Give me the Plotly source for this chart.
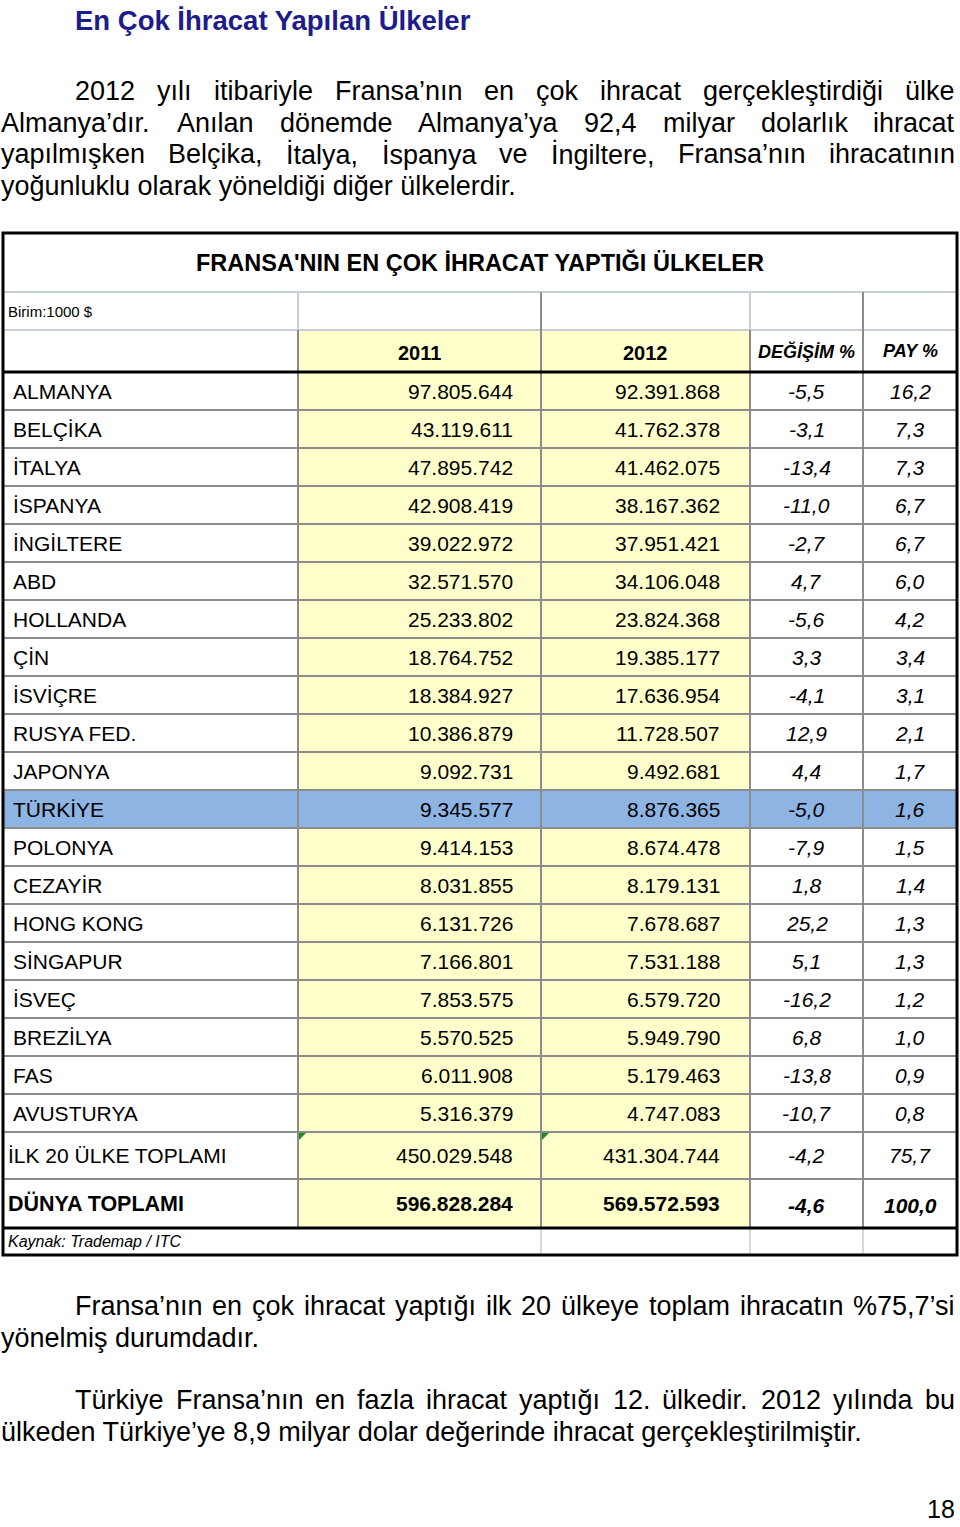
import plotly.graph_objects as go

# ---------------- data ----------------
countries = ["ALMANYA", "BELÇİKA", "İTALYA", "İSPANYA", "İNGİLTERE", "ABD", "HOLLANDA",
             "ÇİN", "İSVİÇRE", "RUSYA FED.", "JAPONYA", "TÜRKİYE", "POLONYA", "CEZAYİR",
             "HONG KONG", "SİNGAPUR", "İSVEÇ", "BREZİLYA", "FAS", "AVUSTURYA"]
exports_2011 = [97805644, 43119611, 47895742, 42908419, 39022972, 32571570, 25233802,
                18764752, 18384927, 10386879, 9092731, 9345577, 9414153, 8031855,
                6131726, 7166801, 7853575, 5570525, 6011908, 5316379]
exports_2012 = [92391868, 41762378, 41462075, 38167362, 37951421, 34106048, 23824368,
                19385177, 17636954, 11728507, 9492681, 8876365, 8674478, 8179131,
                7678687, 7531188, 6579720, 5949790, 5179463, 4747083]
change_pct = [-5.5, -3.1, -13.4, -11.0, -2.7, 4.7, -5.6, 3.3, -4.1, 12.9,
              4.4, -5.0, -7.9, 1.8, 25.2, 5.1, -16.2, 6.8, -13.8, -10.7]
share_pct = [16.2, 7.3, 7.3, 6.7, 6.7, 6.0, 4.2, 3.4, 3.1, 2.1,
             1.7, 1.6, 1.5, 1.4, 1.3, 1.3, 1.2, 1.0, 0.9, 0.8]
top20_label = "İLK 20 ÜLKE TOPLAMI"
top20_values = [450029548, 431304744, -4.2, 75.7]
world_label = "DÜNYA TOPLAMI"
world_values = [596828284, 569572593, -4.6, 100.0]
col_headers = ["2011", "2012", "DEĞİŞİM %", "PAY %"]
highlight_country = "TÜRKİYE"
table_title = "FRANSA'NIN EN ÇOK İHRACAT YAPTIĞI ÜLKELER"
unit_label = "Birim:1000 $"
source_label = "Kaynak: Trademap / ITC"
page_heading = "En Çok İhracat Yapılan Ülkeler"
page_number = "18"

paragraph1 = ["2012 yılı itibariyle Fransa’nın en çok ihracat gerçekleştirdiği ülke",
              "Almanya’dır. Anılan dönemde Almanya’ya 92,4 milyar dolarlık ihracat",
              "yapılmışken Belçika, İtalya, İspanya ve İngiltere, Fransa’nın ihracatının",
              "yoğunluklu olarak yöneldiği diğer ülkelerdir."]
paragraph2 = ["Fransa’nın en çok ihracat yaptığı ilk 20 ülkeye toplam ihracatın %75,7’si",
              "yönelmiş durumdadır."]
paragraph3 = ["Türkiye Fransa’nın en fazla ihracat yaptığı 12. ülkedir. 2012 yılında bu",
              "ülkeden Türkiye’ye 8,9 milyar dolar değerinde ihracat gerçekleştirilmiştir."]

# ---------------- layout constants ----------------
FONT = "Liberation Sans, Arial, Helvetica, sans-serif"
PAGE_W, PAGE_H = 960, 1527
COL_X = [3, 298, 541, 750, 863, 957]          # column edges
TABLE_TOP = 233
ROW_H = [59, 38, 42] + [38] * len(countries) + [47, 49, 27]
YELLOW = "#FFFFCC"
BLUE = "#8DB4E2"
GRID = "#8c8c8c"
LIGHT = "#c8cfd8"
NAVY = "#1c1c8c"


def fmt_int(v):
    return f"{v:,}".replace(",", ".")


def fmt_pct(v):
    return f"{v:.1f}".replace(".", ",")


# Arial / Liberation Sans advance widths (1/1000 em) for justification
W = {' ': 278, ',': 278, '.': 278, ':': 278, '%': 889, '’': 222, "'": 191, '-': 333, '/': 278, '$': 556}
for d in "0123456789":
    W[d] = 556
W.update(dict(zip("ABCDEFGHIJKLMNOPQRSTUVWXYZ",
                  [667, 667, 722, 722, 667, 611, 778, 722, 278, 500, 667, 556, 833, 722, 778, 667,
                   778, 722, 667, 611, 722, 667, 944, 667, 667, 611])))
W.update(dict(zip("abcdefghijklmnopqrstuvwxyz",
                  [556, 556, 500, 556, 556, 278, 556, 556, 222, 222, 500, 222, 833, 556, 556, 556,
                   556, 333, 500, 278, 556, 500, 722, 500, 500, 500])))
W.update({'ç': 500, 'ş': 500, 'ğ': 556, 'ı': 278, 'İ': 278, 'ö': 556, 'ü': 556,
          'Ç': 722, 'Ş': 667, 'Ğ': 778, 'Ö': 778, 'Ü': 722})


def text_w(s, size):
    return sum(W.get(c, 556) for c in s) * size / 1000.0


# row edges from heights
row_edges = [TABLE_TOP]
for h in ROW_H:
    row_edges.append(row_edges[-1] + h)


def row_mid(i):
    return (row_edges[i] + row_edges[i + 1]) / 2


fig = go.Figure()
fig.add_trace(go.Scatter(x=[0, PAGE_W], y=[0, PAGE_H], mode="markers",
                         marker=dict(opacity=0), hoverinfo="skip", showlegend=False))

shapes = []
anns = []


def rect(x0, y0, x1, y1, fill, layer="below"):
    shapes.append(dict(type="rect", xref="x", yref="y", x0=x0, y0=y0, x1=x1, y1=y1,
                       fillcolor=fill, line=dict(width=0), layer=layer))


def line(x0, y0, x1, y1, color, width):
    shapes.append(dict(type="line", xref="x", yref="y", x0=x0, y0=y0, x1=x1, y1=y1,
                       line=dict(color=color, width=width), layer="above"))


def txt(x, y, s, size, anchor="left", color="black", bold=False, italic=False):
    if italic:
        s = f"<i>{s}</i>"
    if bold:
        s = f"<b>{s}</b>"
    anns.append(dict(x=x, y=y, xref="x", yref="y", text=s, showarrow=False,
                     xanchor=anchor, yanchor="middle", borderpad=0, borderwidth=0,
                     font=dict(family=FONT, size=size, color=color)))


# ---------------- table fills ----------------
n = len(countries)
first_data = 3
hdr_top = row_edges[2]
world_bot = row_edges[first_data + n + 2]
rect(COL_X[1], hdr_top, COL_X[3], world_bot, YELLOW)
hi = countries.index(highlight_country)
rect(COL_X[0], row_edges[first_data + hi], COL_X[5], row_edges[first_data + hi + 1], BLUE)

# ---------------- grid lines ----------------
line(COL_X[0], row_edges[1], COL_X[5], row_edges[1], LIGHT, 2)
line(COL_X[0], row_edges[2], COL_X[5], row_edges[2], LIGHT, 2)
for k in range(first_data + 1, first_data + n + 2):
    line(COL_X[0], row_edges[k], COL_X[5], row_edges[k], GRID, 2)
# verticals in unit/header rows
line(COL_X[1], row_edges[1], COL_X[1], row_edges[2], LIGHT, 2)
line(COL_X[1], row_edges[2], COL_X[1], row_edges[3], GRID, 2)
line(COL_X[2], row_edges[1], COL_X[2], row_edges[3], GRID, 2)
line(COL_X[3], row_edges[1], COL_X[3], row_edges[2], LIGHT, 2)
line(COL_X[3], row_edges[2], COL_X[3], row_edges[3], GRID, 2)
line(COL_X[4], row_edges[1], COL_X[4], row_edges[3], GRID, 2)
# verticals in body
for c in range(1, 5):
    line(COL_X[c], row_edges[3], COL_X[c], world_bot, GRID, 2)
# verticals in source row
for c in range(2, 5):
    line(COL_X[c], world_bot, COL_X[c], row_edges[-1], LIGHT, 1.5)
# thick separators
line(COL_X[0], row_edges[3], COL_X[5], row_edges[3], "black", 3)
line(COL_X[0], world_bot, COL_X[5], world_bot, "black", 3)
# outer border
shapes.append(dict(type="rect", xref="x", yref="y", x0=COL_X[0], y0=row_edges[0],
                   x1=COL_X[5], y1=row_edges[-1], line=dict(color="black", width=3),
                   fillcolor="rgba(0,0,0,0)", layer="above"))
# small green error indicators on the top-20 total cells
t20_top = row_edges[first_data + n]
for c in (1, 2):
    x0 = COL_X[c] + 1
    shapes.append(dict(type="path", xref="x", yref="y",
                       path=f"M {x0},{t20_top + 1} L {x0 + 7},{t20_top + 1} L {x0},{t20_top + 8} Z",
                       fillcolor="#1f8a1f", line=dict(width=0), layer="above"))

# ---------------- table text ----------------
X_NAME = 13
X_2011 = 513
X_2012 = 720
X_CHG = (COL_X[3] + COL_X[4]) / 2
X_PAY = (COL_X[4] + COL_X[5]) / 2
DS = 21

txt((COL_X[0] + COL_X[5]) / 2, row_mid(0), table_title, 23.5, "center", bold=True)
txt(8, row_mid(1), unit_label, 15)
hy = row_mid(2) + 2
txt((COL_X[1] + COL_X[2]) / 2, hy, col_headers[0], 20, "center", bold=True)
txt((COL_X[2] + COL_X[3]) / 2, hy, col_headers[1], 20, "center", bold=True)
txt(X_CHG, hy - 2, col_headers[2], 18, "center", bold=True, italic=True)
txt(X_PAY, hy - 2, col_headers[3], 18, "center", bold=True, italic=True)

for i, name in enumerate(countries):
    y = row_mid(first_data + i)
    txt(X_NAME, y, name, DS)
    txt(X_2011, y, fmt_int(exports_2011[i]), DS, "right")
    txt(X_2012, y, fmt_int(exports_2012[i]), DS, "right")
    txt(X_CHG, y, fmt_pct(change_pct[i]), DS, "center", italic=True)
    txt(X_PAY, y, fmt_pct(share_pct[i]), DS, "center", italic=True)

y = row_mid(first_data + n)
txt(8, y, top20_label, DS)
txt(X_2011, y, fmt_int(top20_values[0]), DS, "right")
txt(X_2012, y, fmt_int(top20_values[1]), DS, "right")
txt(X_CHG, y, fmt_pct(top20_values[2]), DS, "center", italic=True)
txt(X_PAY, y, fmt_pct(top20_values[3]), DS, "center", italic=True)

y = row_mid(first_data + n + 1)
txt(8, y, world_label, 21.5, bold=True)
txt(X_2011, y, fmt_int(world_values[0]), DS, "right", bold=True)
txt(X_2012, y, fmt_int(world_values[1]), DS, "right", bold=True)
txt(X_CHG, y + 2, fmt_pct(world_values[2]), DS, "center", bold=True, italic=True)
txt(X_PAY, y + 2, fmt_pct(world_values[3]), DS, "center", bold=True, italic=True)

txt(8, row_mid(first_data + n + 2), source_label, 16, italic=True)

# ---------------- page text ----------------
PS = 27
txt(75, 20, page_heading, 27.5, color=NAVY, bold=True)


def justified(y, x0, x1, s, size):
    words = s.split(" ")
    widths = [text_w(w, size) for w in words]
    gap = (x1 - x0 - sum(widths)) / (len(words) - 1)
    x = x0
    for k, w in enumerate(words):
        if k == len(words) - 1:
            txt(x1, y, w, size, "right")
        else:
            txt(x, y, w, size, "left")
        x += widths[k] + gap


def paragraph(lines, ys, indent=75, right=955):
    for k, (s, y) in enumerate(zip(lines, ys)):
        x0 = indent if k == 0 else 1
        if k < len(lines) - 1:
            justified(y, x0, right, s, PS)
        else:
            txt(x0, y, s, PS)


paragraph(paragraph1, [91, 123, 154, 186])
paragraph(paragraph2, [1306, 1338])
paragraph(paragraph3, [1400, 1432])
txt(955, 1509, page_number, 25, "right")

fig.update_layout(
    width=PAGE_W, height=PAGE_H,
    margin=dict(l=0, r=0, t=0, b=0),
    paper_bgcolor="white", plot_bgcolor="white",
    xaxis=dict(range=[0, PAGE_W], visible=False, showgrid=False, zeroline=False, fixedrange=True),
    yaxis=dict(range=[PAGE_H, 0], visible=False, showgrid=False, zeroline=False, fixedrange=True),
    shapes=shapes, annotations=anns, showlegend=False,
)

fig.write_html("out.html", config={"displayModeBar": False},
               post_script="document.body.style.margin='0px';")
